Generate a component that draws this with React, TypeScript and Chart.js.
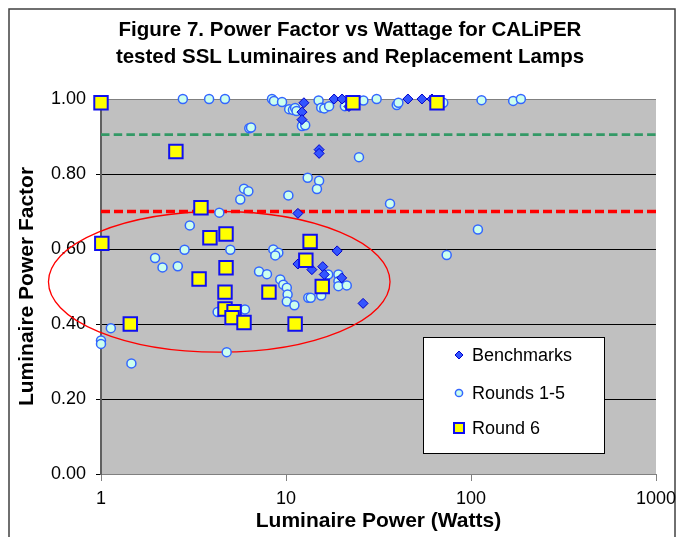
import React, { useEffect, useRef } from 'react';
import { Chart, registerables } from 'chart.js';

Chart.register(...registerables);

// ---------- Data ----------
const titleLines = [
  'Figure 7. Power Factor vs Wattage for CALiPER',
  'tested SSL Luminaires and Replacement Lamps',
];
const xAxisTitle = 'Luminaire Power (Watts)';
const yAxisTitle = 'Luminaire Power Factor';
const xTickValues = [1, 10, 100, 1000];

const seriesNames = ['Benchmarks', 'Rounds 1-5', 'Round 6'];

const benchmarkWatts = [12.5, 12.2, 12.2, 18.2, 20.1, 21.9, 45.6, 54.3, 61.5, 15.1, 15.1, 11.6, 18.9, 11.6, 13.8, 15.8, 16.1, 20.0, 26.1];
const benchmarkPF = [0.99, 0.965, 0.945, 1.0, 1.0, 0.98, 1.0, 1.0, 1.0, 0.865, 0.855, 0.695, 0.595, 0.56, 0.545, 0.553, 0.532, 0.523, 0.455];

const rounds15Watts = [
  2.77, 3.84, 4.68, 8.4, 8.61, 9.52, 10.4, 10.9, 11.2, 11.4, 12.2, 12.7, 15.0, 15.5, 16.1, 17.1, 20.8, 26.2, 30.9, 39.7, 40.5, 70.8, 114, 169, 186,
  6.33, 6.47, 24.8, 5.93, 6.26, 5.66, 10.3, 13.1, 15.1, 14.7, 36.5, 4.36, 3.02, 109, 73.9,
  2.83, 5.0, 8.54, 9.09, 8.75, 1.96, 2.15, 2.6, 7.15, 7.89, 9.31, 9.67, 10.1, 10.2, 10.1, 11.1, 13.2, 13.6, 15.5, 16.9, 19.2, 19.2, 19.2, 21.3,
  4.27, 6.0, 1.13, 1.0, 1.0, 4.78, 1.46,
];
const rounds15PF = [
  1.0, 1.0, 1.0, 1.0, 0.995, 0.992, 0.973, 0.971, 0.976, 0.968, 0.928, 0.93, 0.996, 0.977, 0.975, 0.981, 0.981, 0.996, 1.0, 0.984, 0.99, 0.99, 0.997, 0.995, 1.0,
  0.922, 0.924, 0.845, 0.761, 0.754, 0.732, 0.743, 0.79, 0.782, 0.76, 0.721, 0.697, 0.663, 0.652, 0.584,
  0.598, 0.598, 0.599, 0.59, 0.583, 0.576, 0.551, 0.554, 0.54, 0.533, 0.519, 0.505, 0.497, 0.479, 0.46, 0.45, 0.47, 0.47, 0.476, 0.532, 0.532, 0.514, 0.501, 0.503,
  0.432, 0.439, 0.389, 0.356, 0.347, 0.325, 0.295,
];

const round6Watts = [1.0, 2.54, 3.47, 3.88, 4.74, 1.01, 4.74, 3.39, 4.68, 4.68, 5.24, 5.11, 5.93, 1.44, 8.09, 11.2, 13.5, 12.8, 15.7, 23.0, 65.5];
const round6PF = [0.99, 0.86, 0.71, 0.63, 0.64, 0.615, 0.55, 0.52, 0.485, 0.44, 0.433, 0.417, 0.404, 0.4, 0.485, 0.4, 0.62, 0.57, 0.5, 0.99, 0.99];

const thresholdRange = [1, 1000];
const greenThreshold = 0.905;
const redThreshold = 0.7;

// ellipse annotation bounds (data units)
const ellipseWatts = [0.52, 36.5];
const ellipsePF = [0.325, 0.7];

const FONT = '"Liberation Sans", Arial, Helvetica, sans-serif';

function pts(xs: number[], ys: number[]) {
  return xs.map((x, i) => ({ x, y: ys[i] }));
}

const frameAndBg = {
  id: 'frameAndBg',
  beforeDraw(chart: any) {
    const { ctx, chartArea: a } = chart;
    ctx.save();
    ctx.fillStyle = '#ffffff';
    ctx.fillRect(0, 0, chart.width, chart.height);
    ctx.fillStyle = '#C0C0C0';
    ctx.fillRect(a.left, a.top, a.right - a.left, a.bottom - a.top);
    ctx.strokeStyle = '#404040';
    ctx.lineWidth = 1.5;
    ctx.strokeRect(9, 9, 666, 560);
    // title
    ctx.fillStyle = '#000000';
    ctx.font = `bold 20.5px ${FONT}`;
    ctx.textAlign = 'center';
    ctx.textBaseline = 'middle';
    titleLines.forEach((line, i) => {
      ctx.fillText(line, 350, 30 + i * 27);
    });
    ctx.restore();
  },
};

const ellipsePlugin = {
  id: 'ellipsePlugin',
  beforeDatasetsDraw(chart: any) {
    const { ctx } = chart;
    const xs = chart.scales.x;
    const ys = chart.scales.y;
    const l = xs.getPixelForValue(ellipseWatts[0]);
    const r = xs.getPixelForValue(ellipseWatts[1]);
    const t = ys.getPixelForValue(ellipsePF[1]);
    const b = ys.getPixelForValue(ellipsePF[0]);
    ctx.save();
    ctx.beginPath();
    ctx.ellipse((l + r) / 2, (t + b) / 2, (r - l) / 2, (b - t) / 2, 0, 0, Math.PI * 2);
    ctx.strokeStyle = '#FF0000';
    ctx.lineWidth = 1.3;
    ctx.stroke();
    ctx.restore();
  },
};

const legendPlugin = {
  id: 'customLegend',
  afterDraw(chart: any) {
    const { ctx, chartArea: a } = chart;
    const lx = a.left + 322;
    const ly = a.top + 238;
    const lw = 181;
    const lh = 116;
    ctx.save();
    ctx.fillStyle = '#ffffff';
    ctx.fillRect(lx, ly, lw, lh);
    ctx.strokeStyle = '#000000';
    ctx.lineWidth = 1;
    ctx.strokeRect(lx + 0.5, ly + 0.5, lw, lh);
    const rows = [18, 56, 91];
    ctx.font = `18px ${FONT}`;
    ctx.textBaseline = 'middle';
    ctx.textAlign = 'left';
    seriesNames.forEach((name, i) => {
      const ds = chart.data.datasets.find((d: any) => d.label === name);
      if (!ds) return;
      const cx = lx + 36;
      const cy = ly + rows[i];
      ctx.fillStyle = ds.backgroundColor;
      ctx.strokeStyle = ds.borderColor;
      ctx.lineWidth = ds.borderWidth;
      ctx.beginPath();
      if (ds.pointStyle === 'rectRot') {
        const s = 4;
        ctx.moveTo(cx - s, cy);
        ctx.lineTo(cx, cy - s);
        ctx.lineTo(cx + s, cy);
        ctx.lineTo(cx, cy + s);
        ctx.closePath();
      } else if (ds.pointStyle === 'rect') {
        ctx.rect(cx - 5, cy - 5, 10, 10);
      } else {
        ctx.arc(cx, cy, 3.6, 0, Math.PI * 2);
      }
      ctx.fill();
      ctx.stroke();
      ctx.fillStyle = '#000000';
      ctx.fillText(name, lx + 49, cy + 1);
    });
    ctx.restore();
  },
};

export default function App() {
  const canvasRef = useRef<HTMLCanvasElement | null>(null);

  useEffect(() => {
    if (!canvasRef.current) return;
    const chart = new Chart(canvasRef.current, {
      type: 'scatter',
      data: {
        datasets: [
          {
            label: seriesNames[2],
            data: pts(round6Watts, round6PF),
            pointStyle: 'rect',
            pointRadius: 9.5,
            pointHoverRadius: 9.5,
            backgroundColor: '#FFFF00',
            borderColor: '#1010F0',
            borderWidth: 2,
            clip: false,
          } as any,
          {
            label: seriesNames[0],
            data: pts(benchmarkWatts, benchmarkPF),
            pointStyle: 'rectRot',
            pointRadius: 5,
            pointHoverRadius: 5,
            backgroundColor: '#3355FF',
            borderColor: '#0000CC',
            borderWidth: 1,
            clip: false,
          } as any,
          {
            label: seriesNames[1],
            data: pts(rounds15Watts, rounds15PF),
            pointStyle: 'circle',
            pointRadius: 4.5,
            pointHoverRadius: 4.5,
            backgroundColor: '#CCFFEE',
            borderColor: '#3366FF',
            borderWidth: 1.5,
            clip: false,
          } as any,
          {
            label: 'green threshold',
            data: thresholdRange.map((x) => ({ x, y: greenThreshold })),
            showLine: true,
            pointRadius: 0,
            borderColor: '#339966',
            borderWidth: 2.7,
            borderDash: [8.5, 4.2],
          } as any,
          {
            label: 'red threshold',
            data: thresholdRange.map((x) => ({ x, y: redThreshold })),
            showLine: true,
            pointRadius: 0,
            borderColor: '#FF0000',
            borderWidth: 3.3,
            borderDash: [9, 4],
          } as any,
        ],
      },
      options: {
        animation: false,
        responsive: false,
        events: [],
        layout: { padding: { left: 15, right: 29, top: 99, bottom: 0 } },
        plugins: {
          legend: { display: false },
          tooltip: { enabled: false },
          title: { display: false },
        },
        scales: {
          x: {
            type: 'logarithmic',
            min: 1,
            max: 1000,
            afterBuildTicks: (scale: any) => {
              scale.ticks = xTickValues.map((v) => ({ value: v }));
            },
            afterFit: (scale: any) => {
              scale.height = 63;
            },
            ticks: {
              autoSkip: false,
              maxRotation: 0,
              padding: 7,
              color: '#000000',
              font: { family: FONT, size: 18 },
              callback: (v: any) => String(v),
            },
            grid: {
              display: true,
              drawOnChartArea: false,
              drawTicks: true,
              tickLength: 7,
              color: '#808080',
              tickColor: '#808080',
            },
            border: { display: true, color: '#808080', width: 1 },
            title: {
              display: true,
              text: xAxisTitle,
              color: '#000000',
              font: { family: FONT, size: 21, weight: 'bold' },
              padding: { top: 0, bottom: 3 },
            },
          },
          y: {
            min: 0,
            max: 1,
            afterFit: (scale: any) => {
              scale.width = 86;
            },
            ticks: {
              stepSize: 0.2,
              padding: 10,
              color: '#000000',
              font: { family: FONT, size: 18 },
              callback: (v: any) => Number(v).toFixed(2),
            },
            grid: {
              color: (c: any) =>
                c.tick && (Math.abs(c.tick.value - 1) < 1e-6 || Math.abs(c.tick.value) < 1e-6) ? '#808080' : '#000000',
              tickColor: '#000000',
              tickLength: 5,
              lineWidth: 1,
            },
            border: { display: true, color: '#606060', width: 2 },
            title: {
              display: true,
              text: yAxisTitle,
              color: '#000000',
              font: { family: FONT, size: 21, weight: 'bold' },
              padding: { top: 0, bottom: 0 },
            },
          },
        },
      } as any,
      plugins: [frameAndBg, ellipsePlugin, legendPlugin],
    });
    return () => chart.destroy();
  }, []);

  return (
    <div style={{ position: 'absolute', left: 0, top: 0, width: 685, height: 537 }}>
      <canvas ref={canvasRef} width={685} height={537} style={{ display: 'block' }} />
    </div>
  );
}
